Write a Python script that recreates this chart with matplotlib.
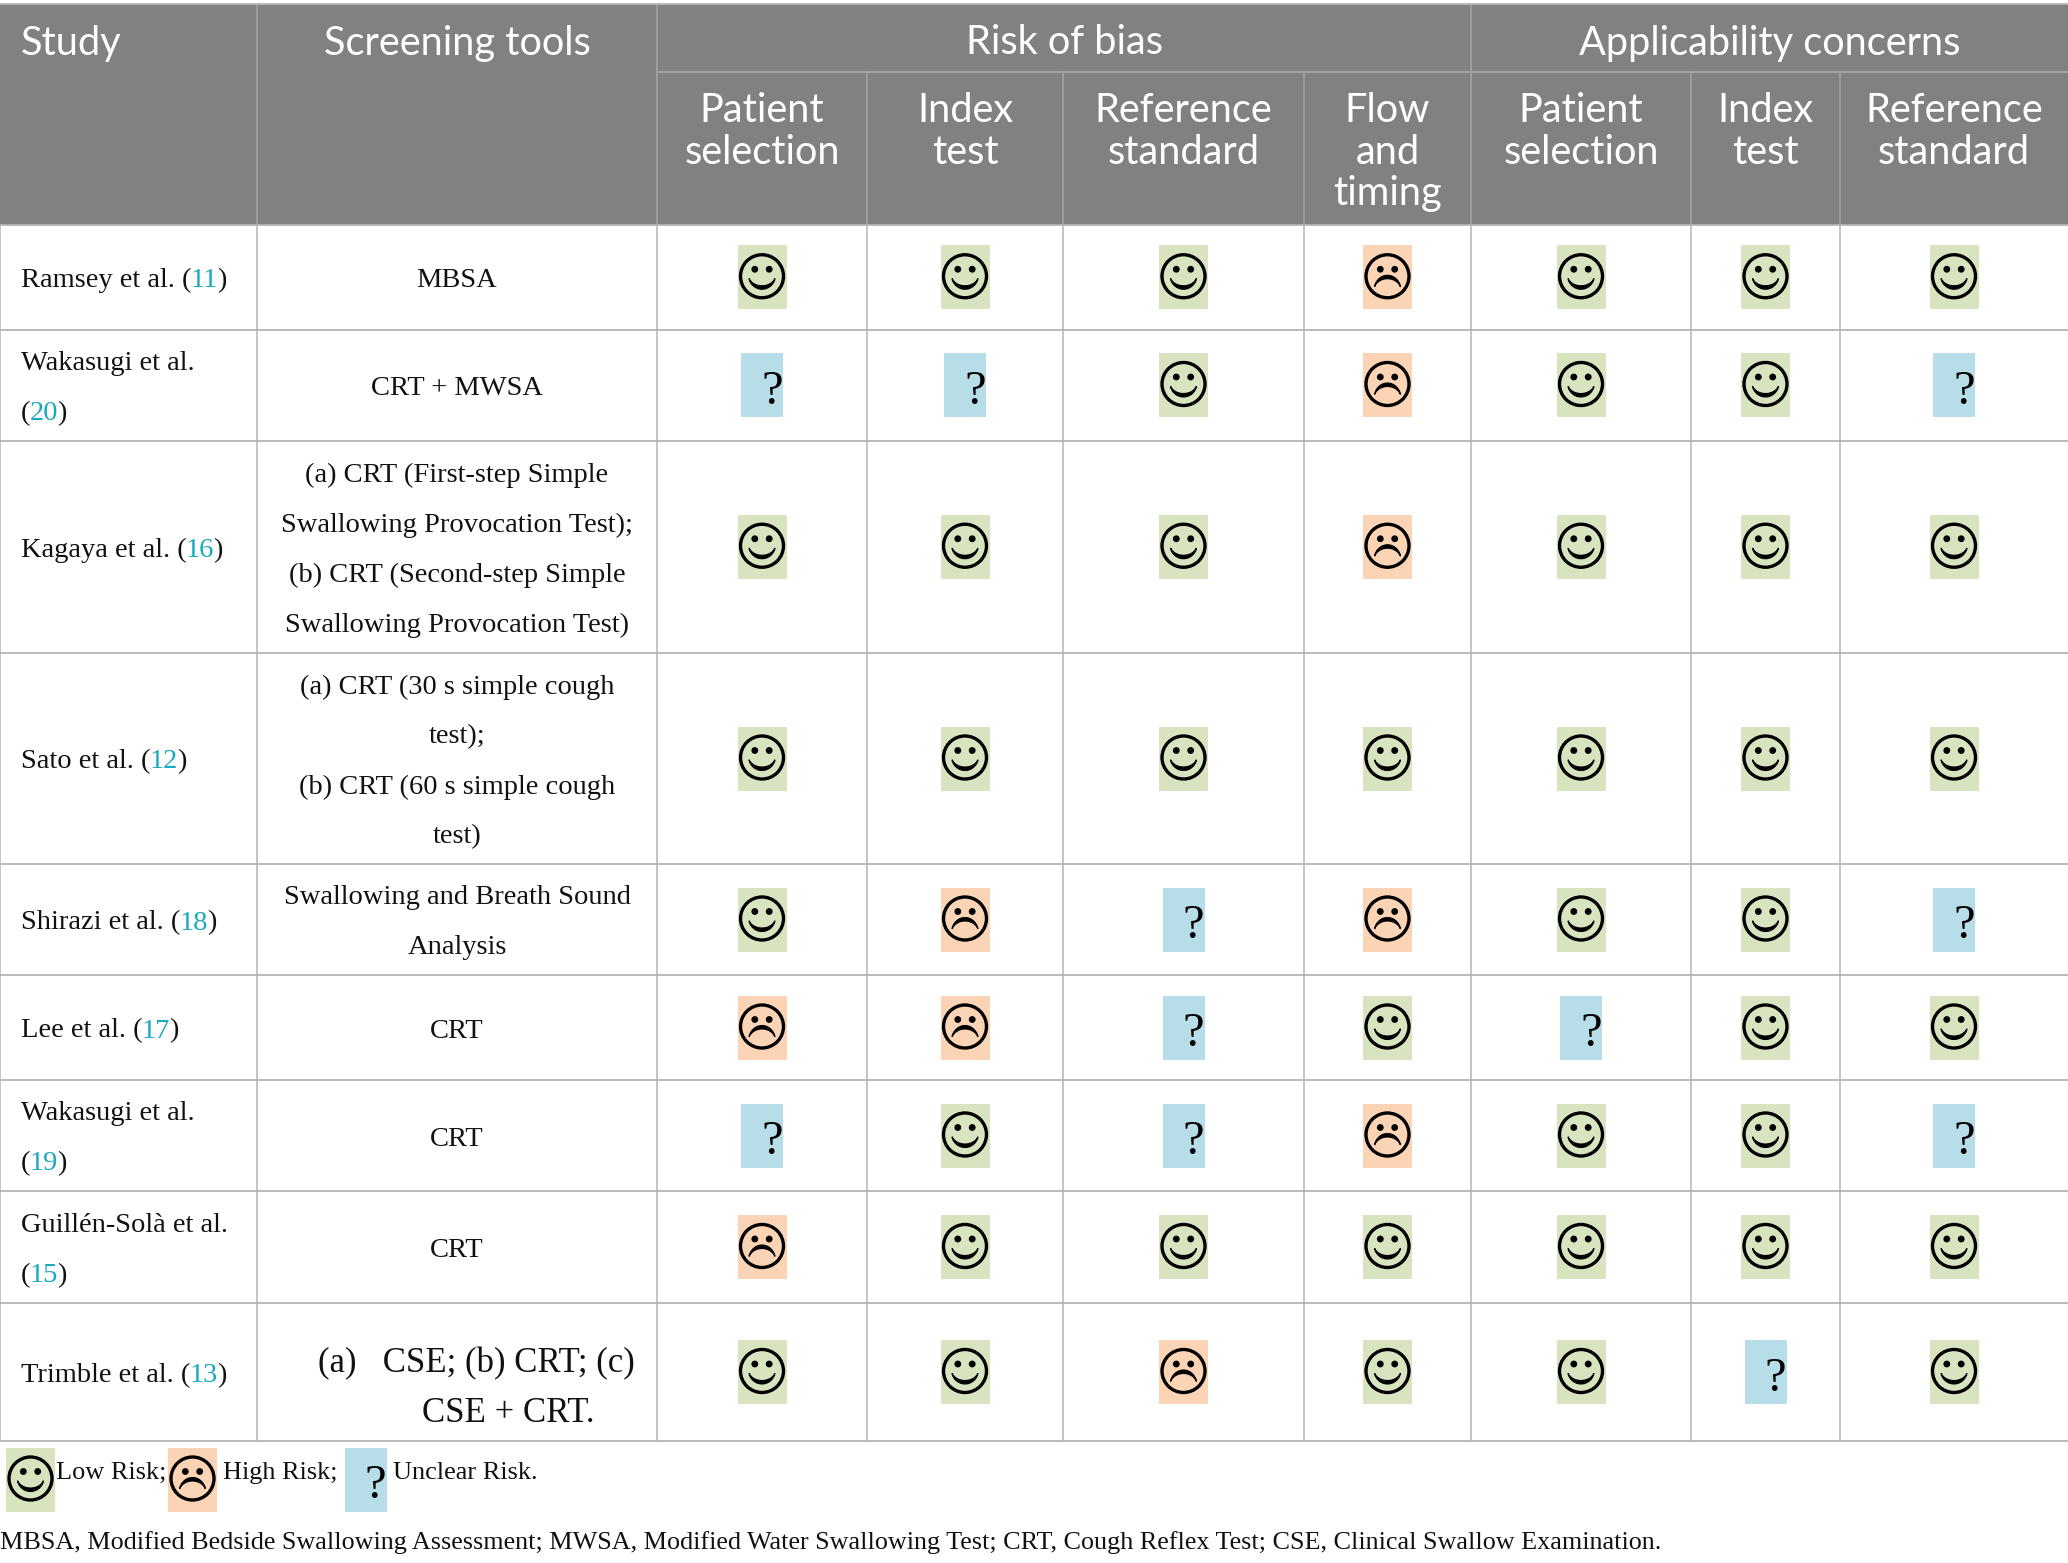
import numpy as np
import matplotlib
matplotlib.use('Agg')
import matplotlib.pyplot as plt
from matplotlib.patches import Rectangle, Circle

# table content
studies = ["Ramsey et al. (", "Wakasugi et al.\n(", "Kagaya et al. (", "Sato et al. (", "Shirazi et al. (",
           "Lee et al. (", "Wakasugi et al.\n(", "Guillén-Solà et al.\n(", "Trimble et al. ("]
refs = ["11", "20", "16", "12", "18", "17", "19", "15", "13"]
tools = ["MBSA",
         "CRT + MWSA",
         "(a) CRT (First-step Simple\nSwallowing Provocation Test);\n(b) CRT (Second-step Simple\nSwallowing Provocation Test)",
         "(a) CRT (30 s simple cough\ntest);\n(b) CRT (60 s simple cough\ntest)",
         "Swallowing and Breath Sound\nAnalysis",
         "CRT",
         "CRT",
         "CRT",
         "(a)   CSE; (b) CRT; (c)\nCSE + CRT."]
# L low, H high, U unclear
ratings = ["LLLHLLL",
           "UULHLLU",
           "LLLHLLL",
           "LLLLLLL",
           "LHUHLLU",
           "HHULULL",
           "ULUHLLU",
           "HLLLLLL",
           "LLHLLUL"]
group_headers = ["Risk of bias", "Applicability concerns"]
sub_headers = ["Patient\nselection", "Index\ntest", "Reference\nstandard", "Flow\nand\ntiming",
               "Patient\nselection", "Index\ntest", "Reference\nstandard"]
footnote = "MBSA, Modified Bedside Swallowing Assessment; MWSA, Modified Water Swallowing Test; CRT, Cough Reflex Test; CSE, Clinical Swallow Examination."

# layout in pixels
col_x = [0, 257, 657, 867, 1063, 1304, 1471, 1691, 1840, 2068]
row_y = [225, 329.5, 440.5, 653, 864, 975, 1080, 1191, 1303, 1441]
head_top, head_mid = 4, 72

HEAD = '#808281'
LINE = '#b4b4b4'
HEADLINE = '#a3a5a4'
GREEN, ORANGE, BLUE = '#d8e3bf', '#fbd4b5', '#b6dde8'
CITE = '#17a9bd'
INK = '#111111'
SERIF = 'Liberation Serif'
SANS = 'Lato'

fig = plt.figure(figsize=(20.68, 15.63), dpi=100)
ax = fig.add_axes([0, 0, 1, 1])
ax.set_xlim(0, 2068)
ax.set_ylim(1563, 0)
ax.axis('off')


def icon(cx, cy, kind):
    if kind == 'U':
        ax.add_patch(Rectangle((cx - 21, cy - 32), 42, 64, fc=BLUE, ec='none'))
        ax.text(cx + 10, cy + 7, '?', family=SERIF, fontsize=35, color='k', ha='center', va='center')
        return
    ax.add_patch(Rectangle((cx - 24.5, cy - 32), 49, 64, fc=GREEN if kind == 'L' else ORANGE, ec='none'))
    fy = cy - 1
    ax.add_patch(Circle((cx, fy), 21.5, fc='none', ec='k', lw=2.4))
    ax.add_patch(Circle((cx - 7.2, fy - 7), 3.4, fc='k', ec='none'))
    ax.add_patch(Circle((cx + 7.2, fy - 7), 3.4, fc='k', ec='none'))
    t = np.linspace(0.1 * np.pi, 0.9 * np.pi, 40)
    if kind == 'L':
        outer = fy - 1 + 14 * np.sin(t)
        inner = fy - 1 + 10.5 * np.sin(t)
    else:
        outer = fy + 14 - 15 * np.sin(t)
        inner = fy + 14 - 11.5 * np.sin(t)
    xs = cx + 13.5 * np.cos(t)
    ax.fill(np.r_[xs, xs[::-1]], np.r_[outer, inner[::-1]], color='k', lw=0.8)


# header block
ax.add_patch(Rectangle((0, head_top), 2068, row_y[0] - head_top, fc=HEAD, ec='none'))
for x in col_x[1:3] + [col_x[6]]:
    ax.plot([x, x], [head_top, row_y[0]], color=HEADLINE, lw=1.1)
for x in col_x[3:6] + col_x[7:9]:
    ax.plot([x, x], [head_mid, row_y[0]], color=HEADLINE, lw=1.1)
ax.plot([col_x[2], 2068], [head_mid, head_mid], color=HEADLINE, lw=1.3)
ax.plot([0, 2068], [head_top, head_top], color=LINE, lw=1.3)

head = dict(family=SANS, fontsize=28.6, color='white', va='center', weight='normal')
ax.text(21, 43, "Study", ha='left', **head)
ax.text((col_x[1] + col_x[2]) / 2, 43, "Screening tools", ha='center', **head)
ax.text((col_x[2] + col_x[6]) / 2, 43, group_headers[0], ha='center', **head)
ax.text((col_x[6] + col_x[9]) / 2, 43, group_headers[1], ha='center', **head)
for i, label in enumerate(sub_headers):
    cx = (col_x[i + 2] + col_x[i + 3]) / 2
    for j, part in enumerate(label.split('\n')):
        ax.text(cx, 110 + j * 42, part, ha='center', **head)

# grid
for y in row_y:
    ax.plot([0, 2068], [y, y], color=LINE, lw=1.3)
for x in col_x[:-1]:
    ax.plot([x, x], [row_y[0], row_y[-1]], color=LINE, lw=1.1)

body = dict(family=SERIF, fontsize=20.5, color=INK, va='center')
renderer = fig.canvas.get_renderer()
inv = ax.transData.inverted()


def put_left(x, y, s, color=INK, size=20.5):
    t = ax.text(x, y, s, ha='left', **{**body, 'color': color, 'fontsize': size})
    box = t.get_window_extent(renderer)
    return inv.transform((box.x1, box.y0))[0]


for r in range(len(studies)):
    top, bottom = row_y[r], row_y[r + 1]
    mid = (top + bottom) / 2
    # study names with coloured citation
    lines = studies[r].split('\n')
    y0 = mid - (len(lines) - 1) * 25 + 3.5
    for k, part in enumerate(lines[:-1]):
        put_left(21, y0 + k * 50, part)
    y_last = y0 + (len(lines) - 1) * 50
    end = put_left(21, y_last, lines[-1])
    end = put_left(end - 1, y_last, refs[r], CITE)
    put_left(end - 1, y_last, ")")

    # screening tools, last row is set larger with a hanging indent
    parts = tools[r].split('\n')
    big = r == len(studies) - 1
    y0 = mid - (len(parts) - 1) * 25 + 3.5
    for k, part in enumerate(parts):
        if big:
            ax.text([476, 508][k], y0 + 13 + k * 50, part, ha='center', **{**body, 'fontsize': 25})
        else:
            ax.text((col_x[1] + col_x[2]) / 2, y0 + k * 50, part, ha='center', **body)

    # rating icons
    for c, kind in enumerate(ratings[r]):
        icon((col_x[c + 2] + col_x[c + 3]) / 2, mid, kind)

# legend line
icon(30.5, 1479.5, 'L')
put_left(56, 1473, "Low Risk;", size=18.9)
icon(192.5, 1479.5, 'H')
put_left(223, 1473, "High Risk;", size=18.9)
icon(365.5, 1479.5, 'U')
put_left(393, 1473, "Unclear Risk.", size=18.9)
put_left(0, 1543, footnote, size=18.8)

fig.savefig('out.png', dpi=100)
